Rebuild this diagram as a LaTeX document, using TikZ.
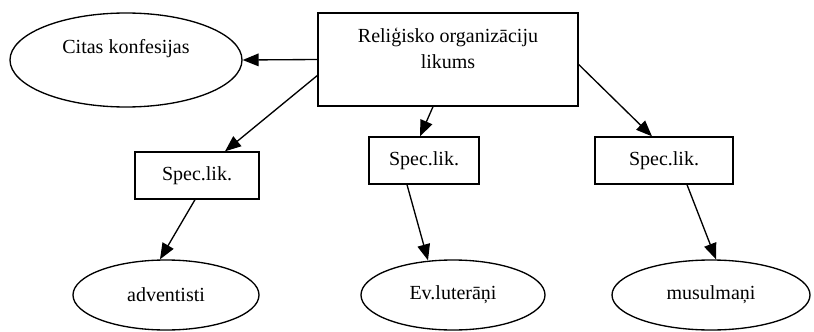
\documentclass[tikz,border=0pt]{standalone}
\usepackage{fontspec}
\setmainfont{Liberation Serif}
\usetikzlibrary{shapes.geometric,arrows.meta,calc}

\begin{document}
\begin{tikzpicture}[x=0.75pt, y=-0.75pt, >={Triangle[length=12pt,width=9.5pt]}, line width=1pt,
	every node/.style={font=\fontsize{15}{19}\selectfont, inner sep=0pt},
	oval/.style={draw, ellipse, minimum width=#1, minimum height=52.5pt},
	specbox/.style={draw, rectangle, minimum width=#1, minimum height=35.25pt}]
	\useasboundingbox (0,0) rectangle (814,332);
	
	% 1. 上层
	\node[draw, rectangle, minimum width=195pt, minimum height=69.75pt, align=center, text depth=17pt] (law) at (448,59.5) {Reliģisko organizāciju\\likums};
	\node[oval=174pt, minimum height=70.5pt, text depth=21pt] (cit) at (126,60) {Citas konfesijas};
	
	% 2. 中层
	\node[specbox=93pt] (spec1) at (197,175.5) {Spec.lik.};
	\node[specbox=82.5pt] (spec2) at (424,160.5) {Spec.lik.};
	\node[specbox=103.5pt] (spec3) at (664,160.5) {Spec.lik.};
	
	% 3. 下层
	\node[oval=139.5pt] (adv) at (166,295) {adventisti};
	\node[oval=138pt] (ev) at (453,295) {Ev.luterāņi};
	\node[oval=148.5pt] (mus) at (711,295) {musulmaņi};
	
	% 4. 箭头
	\draw[->] (law.west) -- (cit.east);
	\draw[->] ($(law.west)+(0,16)$) -- ($(spec1.north)+(28,0)$);
	\draw[->] ($(law.south)+(-15,0)$) -- ($(spec2.north)+(-4,0)$);
	\draw[->] ($(law.east)+(0,5)$) -- ($(spec3.north)+(-12,0)$);
	\draw[->] ($(spec1.south)+(-2,0)$) -- ($(adv.north)+(-6,0)$);
	\draw[->] ($(spec2.south)+(-17,0)$) -- ($(ev.north)+(-25,1)$);
	\draw[->] ($(spec3.south)+(23,0)$) -- ($(mus.north)+(5,0)$);
\end{tikzpicture}
\end{document}
